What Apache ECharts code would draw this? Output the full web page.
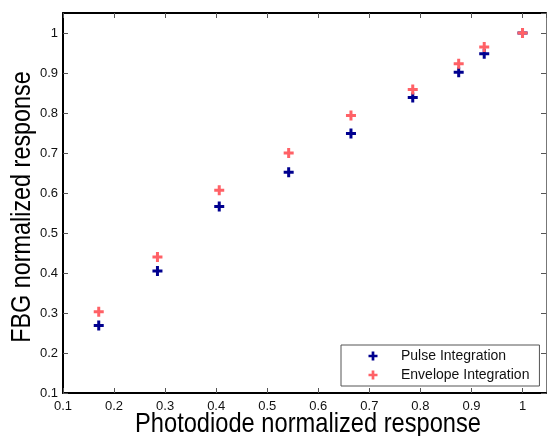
<!DOCTYPE html>
<html>
<head>
<meta charset="utf-8">
<script src="https://cdn.jsdelivr.net/npm/echarts@6/dist/echarts.min.js"></script>
<style>
html,body{margin:0;padding:0;background:#fff;}
#c{width:547px;height:436px;}
</style>
</head>
<body>
<div id="c"></div>
<script>
// Data
var xValues = [0.170, 0.285, 0.406, 0.542, 0.664, 0.785, 0.875, 0.925, 1.000];
var pulseIntegration = [0.269, 0.405, 0.566, 0.652, 0.749, 0.839, 0.902, 0.948, 1.000];
var envelopeIntegration = [0.303, 0.440, 0.607, 0.700, 0.794, 0.859, 0.923, 0.965, 1.000];
var seriesNames = ['Pulse Integration', 'Envelope Integration'];
var xTitle = 'Photodiode normalized response';
var yTitle = 'FBG normalized response';

function pairs(xs, ys) { return xs.map(function (x, i) { return [x, ys[i]]; }); }

var plus = 'path://M3.5,0H6.5V3.5H10V6.5H6.5V10H3.5V6.5H0V3.5H3.5Z';
var font = 'Liberation Sans, Arial, sans-serif';

var chart = echarts.init(document.getElementById('c'));
var tickStyle = { show: true, inside: true, length: 5, lineStyle: { color: '#555', width: 1 } };
var lblStyle = { fontFamily: font, fontSize: 13, color: '#111' };
var titleStyle = { fontFamily: font, fontSize: 28, fill: '#000' };

chart.setOption({
  animation: false,
  backgroundColor: '#fff',
  grid: { left: 63, right: 1, top: 13, bottom: 43, containLabel: false, outerBoundsMode: 'none' },
  graphic: [
    {
      type: 'text', x: 308, y: 410, scaleX: 0.845, silent: true,
      style: Object.assign({ text: xTitle, align: 'center', verticalAlign: 'top' }, titleStyle)
    },
    {
      type: 'text', x: 8, y: 207, rotation: Math.PI / 2, scaleX: 0.835, silent: true,
      style: Object.assign({ text: yTitle, align: 'center', verticalAlign: 'top' }, titleStyle)
    }
  ],
  xAxis: [
    {
      type: 'value', position: 'bottom', min: 0.1, max: 1.046, interval: 0.1,
      axisLine: { show: true, onZero: false, lineStyle: { color: '#000', width: 2 } },
      axisTick: tickStyle,
      axisLabel: Object.assign({ margin: 7, showMaxLabel: false }, lblStyle),
      splitLine: { show: false }
    },
    {
      type: 'value', position: 'top', min: 0.1, max: 1.046, interval: 0.1,
      axisLine: { show: true, onZero: false, lineStyle: { color: '#000', width: 2 } },
      axisTick: tickStyle,
      axisLabel: { show: false },
      splitLine: { show: false }
    }
  ],
  yAxis: [
    {
      type: 'value', position: 'left', min: 0.1, max: 1.05, interval: 0.1,
      axisLine: { show: true, onZero: false, lineStyle: { color: '#000', width: 2 } },
      axisTick: tickStyle,
      axisLabel: Object.assign({ margin: 5, showMaxLabel: false }, lblStyle),
      splitLine: { show: false }
    },
    {
      type: 'value', position: 'right', min: 0.1, max: 1.05, interval: 0.1,
      axisLine: { show: true, onZero: false, lineStyle: { color: '#777', width: 1 } },
      axisTick: tickStyle,
      axisLabel: { show: false },
      splitLine: { show: false }
    }
  ],
  legend: {
    orient: 'vertical', left: 341, top: 345,
    padding: [4, 10, 4, 27.5], itemGap: 5,
    itemWidth: 9, itemHeight: 9,
    borderColor: '#555', borderWidth: 1, borderRadius: 0,
    backgroundColor: '#fff',
    formatter: function (name) { return '{g|}' + name; },
    textStyle: { fontFamily: font, fontSize: 14, color: '#111', rich: { g: { width: 18.5 } } },
    data: [
      { name: seriesNames[0], icon: plus },
      { name: seriesNames[1], icon: plus }
    ]
  },
  series: [
    {
      name: seriesNames[0], type: 'scatter', xAxisIndex: 0, yAxisIndex: 0,
      symbol: plus, symbolSize: 10,
      itemStyle: { color: '#00008f', opacity: 1 },
      data: pairs(xValues, pulseIntegration)
    },
    {
      name: seriesNames[1], type: 'scatter', xAxisIndex: 0, yAxisIndex: 0,
      symbol: plus, symbolSize: 10,
      itemStyle: { color: '#ff6166', opacity: 1 },
      data: pairs(xValues, envelopeIntegration)
    }
  ]
});
</script>
</body>
</html>
